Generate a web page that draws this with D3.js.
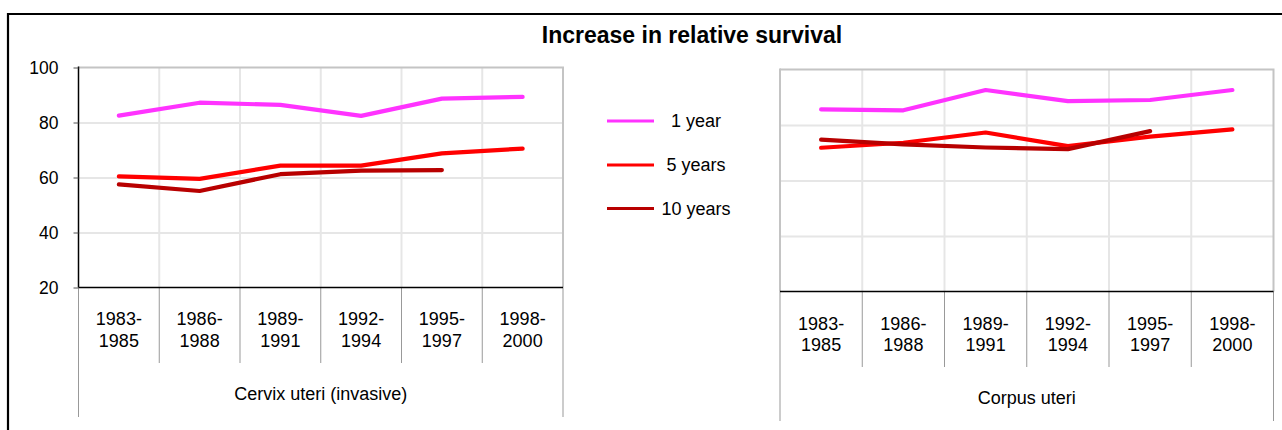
<!DOCTYPE html>
<html>
<head>
<meta charset="utf-8">
<script src="https://cdn.jsdelivr.net/npm/d3@7/dist/d3.min.js"></script>
<style>
  html, body { margin: 0; padding: 0; background: #fff; }
  svg { display: block; font-family: "Liberation Sans", Arial, sans-serif; }
</style>
</head>
<body>
<svg id="chart" width="1282" height="430"></svg>
<script>
// ---- data ----
const title = "Increase in relative survival";
const categories = ["1983-1985", "1986-1988", "1989-1991", "1992-1994", "1995-1997", "1998-2000"];
const catLine1 = ["1983-", "1986-", "1989-", "1992-", "1995-", "1998-"];
const catLine2 = ["1985", "1988", "1991", "1994", "1997", "2000"];
const yTicks = [20, 40, 60, 80, 100];
const seriesNames = ["1 year", "5 years", "10 years"];
const seriesColors = ["#ff33ff", "#ff0000", "#b80000"];
const groupNames = ["Cervix uteri (invasive)", "Corpus uteri"];

const cervix1 = [82.5, 87.2, 86.4, 82.4, 88.7, 89.3];
const cervix5 = [60.4, 59.5, 64.3, 64.3, 68.8, 70.5];
const cervix10 = [57.5, 55.1, 61.2, 62.5, 62.7, null];
const corpus1 = [85.6, 85.3, 92.6, 88.6, 89.0, 92.6];
const corpus5 = [71.8, 73.6, 77.3, 72.4, 75.8, 78.4];
const corpus10 = [74.7, 73.0, 71.9, 71.3, 77.8, null];

// ---- drawing ----
const svg = d3.select("#chart");

// outer frame (left and top edges visible)
svg.append("path")
  .attr("d", "M8,432 L8,14 L1290,14")
  .attr("fill", "none").attr("stroke", "#000").attr("stroke-width", 2.2);

svg.append("text")
  .attr("x", 692).attr("y", 43)
  .attr("text-anchor", "middle")
  .attr("font-size", 23).attr("font-weight", "bold")
  .attr("fill", "#000")
  .text(title);

function panel(cfg) {
  const x = d3.scaleBand().domain(categories).range([cfg.x0, cfg.x1]);
  const y = d3.scaleLinear().domain([20, 100]).range([cfg.yb, cfg.yt]);
  const g = svg.append("g");

  // vertical gridlines
  g.selectAll(".vg").data(categories.slice(1)).enter().append("line")
    .attr("x1", d => x(d)).attr("x2", d => x(d))
    .attr("y1", cfg.yt).attr("y2", cfg.yb)
    .attr("stroke", "#e6e6e6").attr("stroke-width", 2);

  // horizontal gridlines
  const grid = d3.axisLeft(y).tickValues(yTicks.slice(1, -1)).tickSize(-(cfg.x1 - cfg.x0)).tickFormat("");
  g.append("g").attr("transform", `translate(${cfg.x0},0)`).call(grid)
    .call(s => s.select(".domain").remove())
    .call(s => s.selectAll("line").attr("stroke", "#e6e6e6").attr("stroke-width", 2));

  // top & right border (gray)
  g.append("path")
    .attr("d", `M${cfg.x0},${cfg.yt} L${cfg.x1},${cfg.yt} L${cfg.x1},${cfg.yb}`)
    .attr("fill", "none").attr("stroke", "#c4c4c4").attr("stroke-width", 2);
  // left border
  g.append("line")
    .attr("x1", cfg.x0).attr("x2", cfg.x0).attr("y1", cfg.yt - 1).attr("y2", cfg.yb)
    .attr("stroke", cfg.leftAxis ? "#000" : "#c4c4c4").attr("stroke-width", cfg.leftAxis ? 1.5 : 2);

  if (cfg.leftAxis) {
    const ax = d3.axisLeft(y).tickValues(yTicks).tickSizeInner(5).tickSizeOuter(0).tickPadding(15);
    const a = g.append("g").attr("transform", `translate(${cfg.x0},0)`).call(ax);
    a.select(".domain").remove();
    a.selectAll("line").attr("stroke", "#555").attr("stroke-width", 1);
    a.selectAll("text").attr("font-size", 17.5).attr("fill", "#000")
      .attr("font-family", "Liberation Sans, Arial, sans-serif");
  }

  // category separator lines below plot
  const edges = categories.map(d => x(d)).concat([cfg.x1]);
  g.selectAll(".sep").data(edges).enter().append("line")
    .attr("x1", d => d).attr("x2", d => d)
    .attr("y1", cfg.yb)
    .attr("y2", (d, i) => (i === 0 || i === edges.length - 1) ? cfg.outerBottom : cfg.innerBottom)
    .attr("stroke", "#999").attr("stroke-width", 1);

  // bottom axis (black)
  g.append("line")
    .attr("x1", cfg.x0).attr("x2", cfg.x1).attr("y1", cfg.yb).attr("y2", cfg.yb)
    .attr("stroke", "#000").attr("stroke-width", 1.6);

  // category labels
  const cx = d => x(d) + x.bandwidth() / 2;
  g.selectAll(".c1").data(categories).enter().append("text")
    .attr("x", cx).attr("y", cfg.labY1)
    .attr("text-anchor", "middle").attr("font-size", 18).attr("fill", "#000")
    .text((d, i) => catLine1[i]);
  g.selectAll(".c2").data(categories).enter().append("text")
    .attr("x", cx).attr("y", cfg.labY1 + 21.5)
    .attr("text-anchor", "middle").attr("font-size", 18).attr("fill", "#000")
    .text((d, i) => catLine2[i]);

  g.append("text")
    .attr("x", (cfg.x0 + cfg.x1) / 2).attr("y", cfg.groupY)
    .attr("text-anchor", "middle").attr("font-size", 18).attr("fill", "#000")
    .text(cfg.group);

  // lines
  const line = d3.line()
    .defined(d => d.v != null)
    .x(d => cx(d.c)).y(d => y(d.v));
  cfg.series.forEach((vals, si) => {
    const data = categories.map((c, i) => ({ c, v: vals[i] }));
    g.append("path").datum(data)
      .attr("d", line)
      .attr("fill", "none")
      .attr("stroke", seriesColors[si])
      .attr("stroke-width", 4.2)
      .attr("stroke-linejoin", "round")
      .attr("stroke-linecap", "round");
  });
}

panel({
  x0: 78.5, x1: 563, yt: 67.5, yb: 287.5, leftAxis: true,
  innerBottom: 363, outerBottom: 417,
  labY1: 325, groupY: 400, group: groupNames[0],
  series: [cervix1, cervix5, cervix10]
});
panel({
  x0: 780, x1: 1273.5, yt: 69.5, yb: 291.5, leftAxis: false,
  innerBottom: 367, outerBottom: 421,
  labY1: 329.5, groupY: 404, group: groupNames[1],
  series: [corpus1, corpus5, corpus10]
});

// legend
const legendY = [121, 165, 208.5];
const lg = svg.append("g");
seriesNames.forEach((n, i) => {
  lg.append("line")
    .attr("x1", 607).attr("x2", 654).attr("y1", legendY[i]).attr("y2", legendY[i])
    .attr("stroke", seriesColors[i]).attr("stroke-width", 3);
  lg.append("text")
    .attr("x", 696).attr("y", legendY[i]).attr("dy", "0.35em")
    .attr("text-anchor", "middle").attr("font-size", 18).attr("fill", "#000")
    .text(n);
});
</script>
</body>
</html>
